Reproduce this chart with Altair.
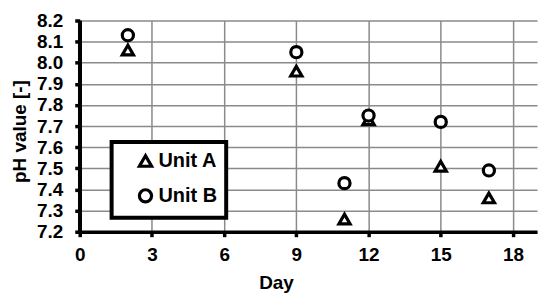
import altair as alt
import pandas as pd

days = [2, 9, 11, 12, 15, 17]
unit_a = [8.06, 7.96, 7.26, 7.73, 7.51, 7.36]
unit_b = [8.13, 8.05, 7.43, 7.75, 7.72, 7.49]
series = ["Unit A", "Unit B"]
x_ticks = [0, 3, 6, 9, 12, 15, 18]
y_ticks = [7.2, 7.3, 7.4, 7.5, 7.6, 7.7, 7.8, 7.9, 8.0, 8.1, 8.2]
x_domain = [0, 19]
y_domain = [7.2, 8.2]

rows = []
for d, a in zip(days, unit_a):
    rows.append({"Day": d, "pH": a, "Unit": series[0], "order": 0})
for d, b in zip(days, unit_b):
    rows.append({"Day": d, "pH": b, "Unit": series[1], "order": 1})
df = pd.DataFrame(rows)

axis_line_df = pd.DataFrame({"Day": [x_domain[0]], "pH": [y_domain[0]], "pH2": [y_domain[1]]})

FONT = "Liberation Sans"
NBSP = "\u00a0" * 8

x_axis = alt.Axis(
    values=x_ticks,
    title="Day",
    titleX=197,
    titleY=42,
    titleAlign="center",
    titleBaseline="top",
    labelPadding=9,
    labelFlush=False,
    gridOpacity={"condition": {"test": "datum.value == 0", "value": 0}, "value": 1},
)
y_axis = alt.Axis(
    values=y_ticks,
    format=".1f",
    title="pH value [-]",
    titleX=-60,
    titleY=111,
    titleAlign="center",
    titleBaseline="middle",
    titleAngle=-90,
    labelPadding=12,
    labelFlush=False,
    labelOverlap=False,
)
x_scale = alt.Scale(domain=x_domain, nice=False, zero=False)
y_scale = alt.Scale(domain=y_domain, nice=False, zero=False)

points = (
    alt.Chart(df)
    .mark_point(filled=True, size=125, opacity=1)
    .encode(
        x=alt.X("Day:Q", scale=x_scale, axis=x_axis),
        y=alt.Y("pH:Q", scale=y_scale, axis=y_axis),
        fill=alt.value("white"),
        stroke=alt.value("black"),
        strokeWidth=alt.value(3.2),
        shape=alt.Shape(
            "Unit:N",
            scale=alt.Scale(domain=series, range=["triangle-up", "circle"]),
            legend=alt.Legend(
                title=None,
                orient="none",
                legendX=32,
                legendY=122,
                padding=9,
                rowPadding=10,
                symbolOffset=15,
                labelOffset=3,
                labelExpr=f"datum.label + '{NBSP}'",
                symbolSize=150,
                symbolStrokeWidth=3.2,
                labelFont=FONT,
                labelFontSize=20,
                labelFontWeight="bold",
                labelColor="black",
                strokeColor="black",
                fillColor="white",
                labelLimit=400,
            ),
        ),
        order=alt.Order("order:Q"),
    )
)

# left axis line drawn over the vertical gridline at x = 0
y_axis_line = (
    alt.Chart(axis_line_df)
    .mark_rule(color="black", strokeWidth=3.5)
    .encode(
        x=alt.X("Day:Q", scale=x_scale, axis=x_axis),
        y=alt.Y("pH:Q", scale=y_scale, axis=y_axis),
        y2="pH2:Q",
    )
)

chart = (
    alt.layer(points, y_axis_line)
    .properties(
        width=459,
        height=212,
        autosize=alt.AutoSizeParams(type="none"),
        padding={"left": 72, "top": 12, "right": 5, "bottom": 68},
    )
    .configure_view(stroke=None)
    .configure_legend(strokeWidth=4, cornerRadius=0)
    .configure_axis(
        domainColor="black",
        domainWidth=3.5,
        tickColor="black",
        tickWidth=3.5,
        tickSize=5,
        gridColor="#8a8a8a",
        gridWidth=1.5,
        labelFont=FONT,
        labelFontSize=19,
        labelFontWeight="bold",
        labelColor="black",
        titleFont=FONT,
        titleFontSize=19,
        titleFontWeight="bold",
        titleColor="black",
    )
)

chart.save("out.html", embed_options={"renderer": "svg", "actions": False})
